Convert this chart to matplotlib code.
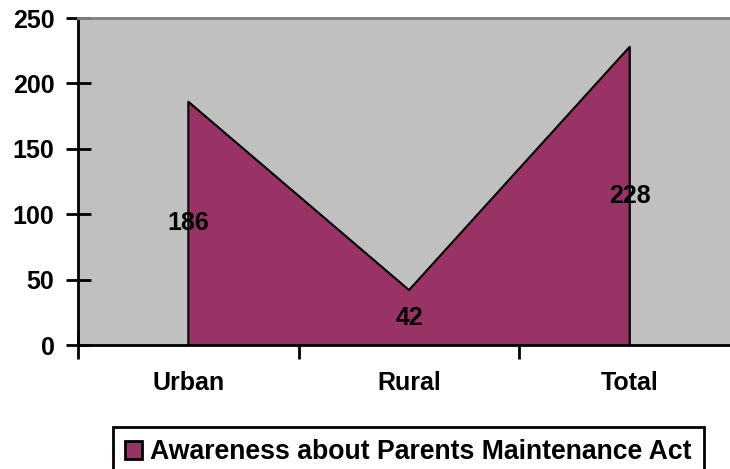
import matplotlib.pyplot as plt
from matplotlib.patches import Patch

categories = ['Urban', 'Rural', 'Total']
values = [186, 42, 228]
series_name = 'Awareness about Parents Maintenance Act'
yticks = [0, 50, 100, 150, 200, 250]

plt.rcParams['font.family'] = ['Liberation Sans', 'DejaVu Sans']
plt.rcParams['font.weight'] = 'bold'

W, H = 730, 469
fig = plt.figure(figsize=(W/100, H/100), dpi=100)
ax = fig.add_axes([78/W, (H-345)/H, (740-78)/W, (345-18)/H])
ax.set_facecolor('#C0C0C0')

x = list(range(len(categories)))
ax.fill_between(x, values, 0, color='#993366', zorder=2)
# outline of the area incl. vertical edges
ax.plot([x[0]] + x + [x[-1]], [0] + values + [0], color='black', lw=1.5, zorder=3)

for xi, v in zip(x, values):
    ax.text(xi, v/2, str(v), ha='center', va='center', fontsize=18, fontweight='bold', zorder=4)

ax.set_xlim(-0.5, len(categories) - 0.5)
ax.set_ylim(0, 250)
ax.set_yticks(yticks)
ax.set_yticklabels([str(t) for t in yticks], fontsize=18, fontweight='bold')

# category boundaries get tick marks, labels sit in the middle
ax.set_xticks([i + 0.5 for i in range(-1, len(categories))])
ax.set_xticklabels([])
ax.set_xticks(x, minor=True)
ax.set_xticklabels(categories, minor=True, fontsize=18, fontweight='bold')
ax.tick_params(axis='x', which='minor', length=0, pad=19)
ax.tick_params(axis='x', which='major', direction='inout', length=20, width=2)
ax.tick_params(axis='y', direction='inout', length=18, width=2, pad=8)

ax.spines['top'].set_color('#808080')
ax.spines['top'].set_linewidth(2)
ax.spines['right'].set_visible(False)
ax.spines['left'].set_linewidth(2)
ax.spines['bottom'].set_linewidth(2)
for s in ax.spines.values():
    s.set_zorder(5)

handle = Patch(facecolor='#993366', edgecolor='black', linewidth=2, label=series_name)
leg = fig.legend(handles=[handle], loc='upper left',
                 bbox_to_anchor=(113/W, 0, (704-113)/W, (H-427)/H),
                 mode='expand', borderaxespad=0, fancybox=False, framealpha=1,
                 edgecolor='black', handlelength=0.65, handleheight=0.65,
                 handletextpad=0.3, borderpad=0.45,
                 prop={'size': 19.2, 'weight': 'bold'})
leg.get_frame().set_linewidth(2)

fig.savefig('out.png', dpi=100)
